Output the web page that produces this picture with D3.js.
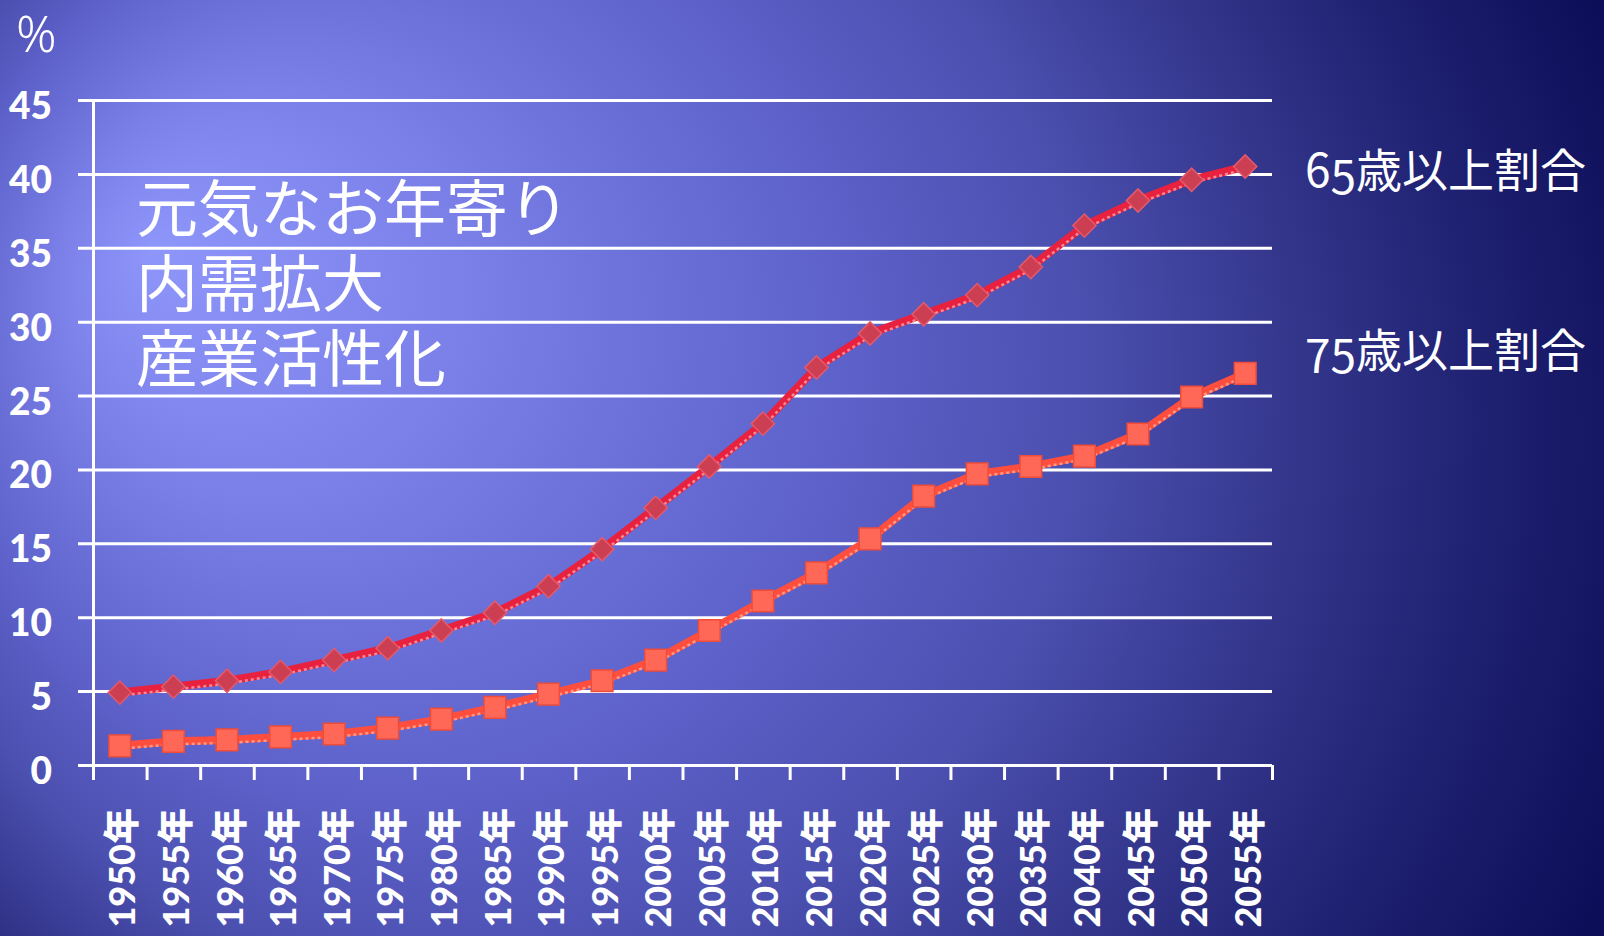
<!DOCTYPE html>
<html lang="ja">
  <head>
    <meta charset="UTF-8" />
    <title>高齢化率の推移</title>
    <script src="https://d3js.org/d3.v7.min.js"></script>
    <style>
      body { margin: 0; overflow: hidden; }
    </style>
  </head>
  <body>
    <div id="chart"></div>
  </body>
</html>

<script>
  const years = ["1950", "1955", "1960", "1965", "1970", "1975", "1980", "1985", "1990", "1995", "2000",
    "2005", "2010", "2015", "2020", "2025", "2030", "2035", "2040", "2045", "2050", "2055"]
  const over65 = [4.9, 5.3, 5.7, 6.3, 7.1, 7.9, 9.1, 10.3, 12.1, 14.6, 17.4,
    20.2, 23.1, 26.9, 29.2, 30.5, 31.8, 33.7, 36.5, 38.2, 39.6, 40.5]
  const over75 = [1.3, 1.6, 1.7, 1.9, 2.1, 2.5, 3.1, 3.9, 4.8, 5.7, 7.1,
    9.1, 11.1, 13.0, 15.3, 18.2, 19.7, 20.2, 20.9, 22.4, 24.9, 26.5]
  const yTicks = [0, 5, 10, 15, 20, 25, 30, 35, 40, 45]
  const noteLines = ["元気なお年寄り", "内需拡大", "産業活性化"]
  const seriesNames = ["65歳以上割合", "75歳以上割合"]

  const W = 1604, H = 936
  const plotL = 93, plotR = 1272, plotT = 100, plotB = 765

  const svg = d3.select("#chart").append("svg")
    .attr("width", W)
    .attr("height", H)

  // background: off-centre radial gradient, bright near top-left
  const grad = svg.append("defs").append("radialGradient")
    .attr("id", "bg")
    .attr("gradientUnits", "userSpaceOnUse")
    .attr("cx", 800).attr("cy", 500).attr("r", 1200)
    .attr("fx", 150).attr("fy", 250)
  const stops = [[0, "#8f96fa"], [0.17, "#7a80e8"], [0.36, "#5f63cc"], [0.5, "#4c50b0"],
    [0.62, "#34368c"], [0.72, "#1f2172"], [0.84, "#0d0e58"], [1, "#07084c"]]
  grad.selectAll("stop").data(stops).enter().append("stop")
    .attr("offset", d => d[0])
    .attr("stop-color", d => d[1])
  svg.append("rect").attr("width", W).attr("height", H).attr("fill", "url(#bg)")

  const x = d3.scaleBand().domain(years).range([plotL, plotR]).padding(0)
  const xTickScale = d3.scaleLinear().domain([0, years.length]).range([plotL, plotR])
  const y = d3.scaleLinear().domain([0, 45]).range([plotB, plotT])
  const cx = (d, i) => x(years[i]) + x.bandwidth() / 2

  const numFont = "Lato, 'DejaVu Sans', 'Noto Sans CJK JP', sans-serif"

  // y axis + grid lines
  const yAxis = svg.append("g")
    .attr("transform", `translate(${plotL},0)`)
    .call(d3.axisLeft(y).tickValues(yTicks).tickSize(15).tickSizeOuter(0).tickPadding(26))
  yAxis.select(".domain").attr("stroke", "#fff").attr("stroke-width", 3)
  yAxis.selectAll(".tick line")
    .attr("x1", -15)
    .attr("x2", plotR - plotL)
    .attr("stroke", "#fff")
    .attr("stroke-width", 3)
  yAxis.selectAll(".tick text")
    .attr("fill", "#fff")
    .attr("font-family", numFont)
    .attr("font-weight", 900)
    .attr("font-size", 37)
    .attr("dy", "0.5em")

  // x axis tick marks at category boundaries
  const xTicks = svg.append("g")
    .attr("transform", `translate(0,${plotB})`)
    .call(d3.axisBottom(xTickScale).tickValues(d3.range(years.length + 1)).tickSize(15).tickSizeOuter(0).tickFormat(""))
  xTicks.select(".domain").remove()
  xTicks.selectAll(".tick line").attr("stroke", "#fff").attr("stroke-width", 3)

  // x labels, rotated
  const xAxis = svg.append("g")
    .attr("transform", `translate(0,${plotB})`)
    .call(d3.axisBottom(x).tickSize(0).tickFormat(d => d + "年"))
  xAxis.select(".domain").remove()
  xAxis.selectAll(".tick text")
    .attr("fill", "#fff")
    .attr("font-family", numFont)
    .attr("font-weight", 900)
    .attr("font-size", 36)
    .attr("text-anchor", "end")
    .attr("transform", "rotate(-90)")
    .attr("x", -43)
    .attr("y", 3)
    .attr("dy", "0.35em")

  // lines with a dotted highlight underneath (3D look)
  const line = d3.line().x(cx).y(d => y(d))
  function drawSeries(values, lineColor, hiColor) {
    svg.append("path")
      .datum(values)
      .attr("d", line)
      .attr("fill", "none")
      .attr("stroke", lineColor)
      .attr("stroke-width", 8)
      .attr("stroke-linejoin", "round")
    svg.append("path")
      .datum(values)
      .attr("d", line)
      .attr("transform", "translate(0,3)")
      .attr("fill", "none")
      .attr("stroke", hiColor)
      .attr("stroke-width", 2.5)
      .attr("stroke-dasharray", "3,3")
  }
  drawSeries(over65, "#e8223e", "#f58a98")
  drawSeries(over75, "#ff4e3e", "#ff9a8a")

  // diamonds for 65+
  svg.append("g").selectAll("path")
    .data(over65)
    .enter()
    .append("path")
    .attr("d", d3.symbol().type(d3.symbolSquare).size(270))
    .attr("transform", (d, i) => `translate(${cx(d, i)},${y(d)}) rotate(45)`)
    .attr("fill", "#cc3f52")
    .attr("stroke", "#e45a6c")
    .attr("stroke-width", 1.5)

  // squares for 75+
  svg.append("g").selectAll("path")
    .data(over75)
    .enter()
    .append("path")
    .attr("d", d3.symbol().type(d3.symbolSquare).size(470))
    .attr("transform", (d, i) => `translate(${cx(d, i)},${y(d)})`)
    .attr("fill", "#ff6856")
    .attr("stroke", "#f04c3a")
    .attr("stroke-width", 1.5)

  // unit
  svg.append("text")
    .attr("x", 16)
    .attr("y", 52)
    .attr("fill", "#fff")
    .attr("font-family", "'Noto Sans', sans-serif")
    .attr("font-weight", 300)
    .attr("font-size", 50)
    .text("%")

  // note text, one block with a line per tspan
  svg.append("text")
    .attr("y", 232)
    .attr("fill", "#fff")
    .attr("font-family", "'Noto Sans CJK JP', sans-serif")
    .attr("font-size", 62)
    .selectAll("tspan")
    .data(noteLines)
    .enter()
    .append("tspan")
    .attr("x", 136)
    .attr("dy", (d, i) => (i === 0 ? 0 : 75))
    .text(d => d)

  // series labels on the right
  const labelY = [over65[over65.length - 1], over75[over75.length - 1]]
  const labels = svg.append("g").selectAll("text")
    .data(seriesNames)
    .enter()
    .append("text")
    .attr("x", 1305)
    .attr("y", (d, i) => y(labelY[i]) + [20, -6][i])
    .attr("fill", "#fff")
    .attr("font-family", "'Noto Sans CJK JP', sans-serif")
    .attr("font-size", 46)
  labels.each(function (d, i) {
    const t = d3.select(this)
    if (i === 0) {
      t.append("tspan").text(d[0])
      t.append("tspan").attr("dy", 7).text(d[1])
      t.append("tspan").attr("dy", -7).text(d.slice(2))
    } else {
      t.append("tspan").attr("dy", 6).text(d.slice(0, 2))
      t.append("tspan").attr("dy", -6).text(d.slice(2))
    }
  })
</script>
